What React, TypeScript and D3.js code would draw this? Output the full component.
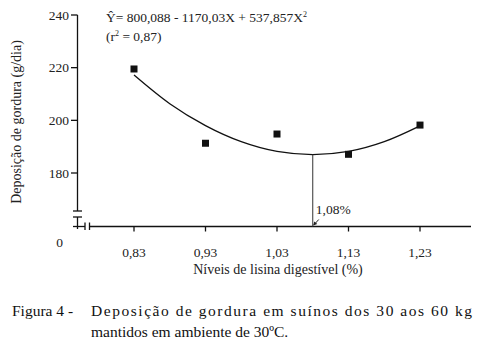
import React from "react";
import * as d3 from "d3";

// lysine levels (%) and observed fat deposition (g/day)
const levels = [0.83, 0.93, 1.03, 1.13, 1.23];
const observed = [219.5, 191.3, 194.8, 187.1, 198.2];

// fitted curve
const curveX = [0.83, 0.88, 0.93, 0.98, 1.03, 1.08, 1.13, 1.18, 1.23];
const curveY = [217.2, 206.3, 198.0, 191.9, 188.2, 187.0, 188.2, 191.9, 197.9];

const yTicks = [180, 200, 220, 240];
const xTickLabels = ["0,83", "0,93", "1,03", "1,13", "1,23"];
const optimum = 1.08;

const ff = { fontFamily: "Liberation Serif" };

const App = () => {
  const width = 487;
  const height = 353;
  const axisY = 226.5;
  const axisX = 77.5;

  const xScale = d3.scaleLinear().domain([0.83, 1.23]).range([134, 420]);
  const yScale = d3.scaleLinear().domain([180, 240]).range([173, 15]);

  const line = d3
    .line<number>()
    .x((d, i) => xScale(curveX[i]))
    .y((d) => yScale(d))
    .curve(d3.curveMonotoneX);

  const optY = yScale(curveY[curveX.indexOf(optimum)]);
  const optX = xScale(optimum);

  return (
    <svg
      width={width}
      height={height}
      style={{ position: "absolute", left: 0, top: 0, background: "#fff" }}
    >
      {/* y axis with break */}
      <g stroke="#111" strokeWidth={1.3} fill="none">
        <line x1={axisX} x2={axisX} y1={yScale(240)} y2={211} />
        <line x1={73} x2={82} y1={211} y2={211} />
        <line x1={73} x2={82} y1={217} y2={217} />
        <line x1={axisX} x2={axisX} y1={217} y2={229} />
        {yTicks.map((t) => (
          <line key={t} x1={71} x2={axisX} y1={yScale(t)} y2={yScale(t)} />
        ))}
        {/* x axis with break */}
        <line x1={73} x2={85} y1={axisY} y2={axisY} />
        <line x1={85} x2={85} y1={222.5} y2={230} />
        <line x1={89.5} x2={89.5} y1={222.5} y2={230} />
        <line x1={89.5} x2={471} y1={axisY} y2={axisY} />
        {levels.map((l) => (
          <line key={l} x1={xScale(l)} x2={xScale(l)} y1={axisY} y2={axisY + 5} />
        ))}
      </g>

      {/* y tick labels */}
      {yTicks.map((t) => (
        <text key={t} x={69} y={yScale(t) + 4.5} fontSize={13.5} fill="#222" textAnchor="end" style={ff}>
          {t}
        </text>
      ))}
      <text x={63} y={247} fontSize={13.5} fill="#222" textAnchor="end" style={ff}>
        0
      </text>

      {/* x tick labels */}
      {levels.map((l, i) => (
        <text key={l} x={xScale(l)} y={257} fontSize={13.5} fill="#222" textAnchor="middle" style={ff}>
          {xTickLabels[i]}
        </text>
      ))}

      {/* fitted curve */}
      <path d={line(curveY) || ""} fill="none" stroke="#111" strokeWidth={1.3} />

      {/* optimum marker */}
      <line x1={optX} x2={optX} y1={optY} y2={axisY} stroke="#333" strokeWidth={1} />
      <line x1={optX + 1} x2={optX + 6} y1={axisY - 1.5} y2={axisY - 7} stroke="#222" strokeWidth={1} />
      <path d={`M${optX + 0.5},${axisY - 1} l1,-4 l3,2.5 z`} fill="#222" />
      <text x={optX + 3} y={214} fontSize={13.5} fill="#222" style={ff}>
        1,08%
      </text>

      {/* observed points */}
      {levels.map((l, i) => (
        <rect
          key={l}
          x={xScale(l) - 3.5}
          y={yScale(observed[i]) - 3.5}
          width={7}
          height={7}
          fill="#111"
        />
      ))}

      {/* equation */}
      <text x={106} y={22} fontSize={13.5} fill="#222" style={ff}>
        Ŷ= 800,088 - 1170,03X + 537,857X
        <tspan fontSize={8} dy={-5}>
          2
        </tspan>
      </text>
      <text x={106} y={41} fontSize={13.5} fill="#222" style={ff}>
        (r<tspan fontSize={8} dy={-5}>2</tspan>
        <tspan dy={5}> = 0,87)</tspan>
      </text>

      {/* axis titles */}
      <text
        transform="translate(21,122) rotate(-90)"
        textAnchor="middle"
        fontSize={14}
        fill="#222"
        style={ff}
      >
        Deposição de gordura (g/dia)
      </text>
      <text x={278} y={274} textAnchor="middle" fontSize={14} fill="#222" style={ff}>
        Níveis de lisina digestível (%)
      </text>

      {/* caption */}
      <text x={12} y={316} fontSize={15.5} fill="#111" style={ff}>
        Figura 4 -
      </text>
      <text x={91} y={316} fontSize={15.5} fill="#111" textLength={381} lengthAdjust="spacing" style={ff}>
        Deposição de gordura em suínos dos 30 aos 60 kg
      </text>
      <text x={91} y={337} fontSize={15.5} fill="#111" style={ff}>
        mantidos em ambiente de 30ºC.
      </text>
    </svg>
  );
};

export default App;
